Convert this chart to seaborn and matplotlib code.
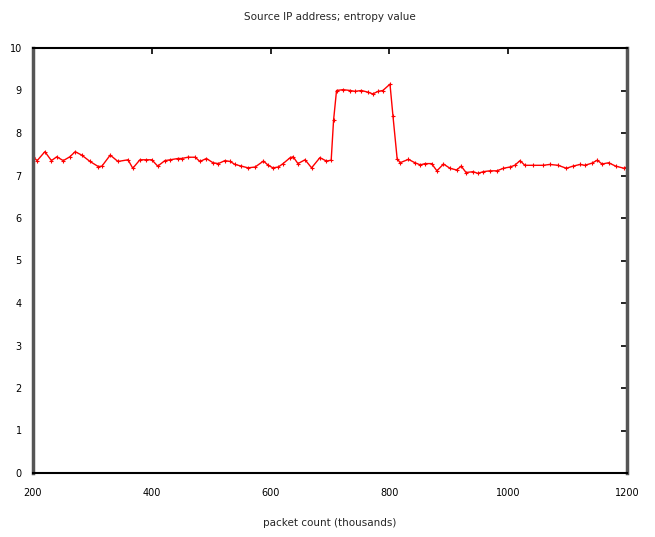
import matplotlib
matplotlib.use("Agg")
import matplotlib.pyplot as plt
import seaborn as sns
import pandas as pd

packets = [200, 207, 220, 231, 240, 251, 262, 271, 282, 296, 310, 316, 330, 343, 360, 368,
           380, 391, 400, 410, 422, 431, 444, 450, 461, 473, 481, 492, 503, 512, 523, 532,
           540, 551, 562, 574, 588, 596, 604, 613, 621, 633, 638, 646, 658, 669, 683, 694,
           702, 706, 711, 722, 734, 742, 753, 764, 772, 781, 789, 801, 806, 813, 818, 832,
           843, 852, 860, 871, 880, 891, 902, 913, 921, 929, 941, 949, 958, 969, 981, 992,
           1003, 1011, 1020, 1028, 1042, 1059, 1070, 1084, 1098, 1109, 1121, 1129, 1141,
           1150, 1158, 1169, 1181, 1195, 1200]
entropy = [7.44, 7.35, 7.56, 7.35, 7.44, 7.35, 7.44, 7.56, 7.48, 7.33, 7.21, 7.22, 7.48, 7.33, 7.37, 7.17,
           7.37, 7.37, 7.37, 7.22, 7.35, 7.37, 7.40, 7.40, 7.43, 7.43, 7.33, 7.40, 7.30, 7.28, 7.35, 7.33,
           7.26, 7.22, 7.18, 7.20, 7.34, 7.24, 7.18, 7.20, 7.28, 7.42, 7.44, 7.28, 7.37, 7.18, 7.42, 7.34,
           7.36, 8.30, 9.00, 9.02, 9.00, 8.98, 9.00, 8.96, 8.92, 8.98, 9.00, 9.15, 8.40, 7.40, 7.30, 7.38,
           7.30, 7.25, 7.28, 7.28, 7.11, 7.27, 7.17, 7.13, 7.22, 7.07, 7.09, 7.05, 7.09, 7.11, 7.11, 7.17,
           7.20, 7.24, 7.35, 7.24, 7.24, 7.24, 7.26, 7.24, 7.17, 7.22, 7.26, 7.24, 7.29,
           7.36, 7.27, 7.30, 7.22, 7.17, 7.20]

df = pd.DataFrame({"packets": packets, "entropy": entropy})

sns.set_style("white")
plt.rcParams['font.family'] = ['DejaVu Sans']

fig = plt.figure(figsize=(6.55, 5.37), dpi=100)
ax = fig.add_axes([33/655, 64/537, 594/655, 425/537])

sns.lineplot(data=df, x="packets", y="entropy", ax=ax, color="#ff0000", linewidth=1.0,
             marker="+", markersize=3, markeredgewidth=0.8, markeredgecolor="#ff0000")

ax.set_xlim(200, 1200)
ax.set_ylim(0, 10)
ax.set_xticks([200, 400, 600, 800, 1000, 1200])
ax.set_yticks(range(0, 11))
ax.tick_params(direction="in", length=4, width=1.2, top=True, right=True,
               labelsize=7, colors="black")
ax.tick_params(axis="x", pad=11)
ax.tick_params(axis="y", pad=8)
for s in ax.spines.values():
    s.set_visible(True)
    s.set_color("black")
    s.set_linewidth(1.5)
ax.spines["left"].set_color("#555555")
ax.spines["right"].set_color("#555555")
ax.spines["left"].set_linewidth(2.5)
ax.spines["right"].set_linewidth(2.5)

ax.set_xlabel("packet count (thousands)", fontsize=7.5, labelpad=14)
ax.set_ylabel("")
fig.text(330/655, 1 - 17/537, "Source IP address; entropy value", ha="center", va="center",
         fontsize=7.5)

fig.savefig("out.png", dpi=100)
